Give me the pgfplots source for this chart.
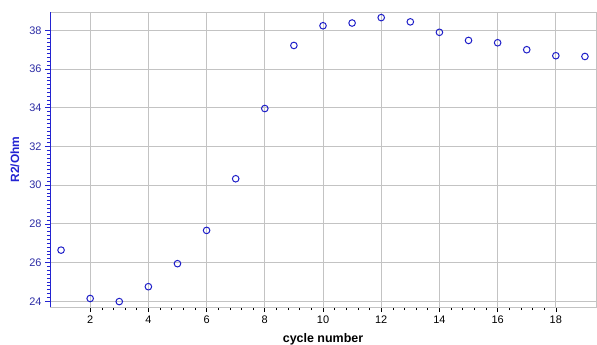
\documentclass[border=0pt]{standalone}
\usepackage{pgfplots}
\pgfplotsset{compat=1.18}
\usepackage{fontspec}
\setmainfont{Liberation Sans}
\definecolor{ablue}{RGB}{35,35,210}
\definecolor{tblue}{RGB}{45,45,165}
\definecolor{gridgray}{RGB}{195,195,195}
\definecolor{mblue}{RGB}{30,30,200}
\begin{document}
\begin{tikzpicture}
\begin{axis}[
  scale only axis, width=546bp, height=295bp,
  xmin=0.62, xmax=19.38, ymin=23.7, ymax=38.95,
  xtick={2,4,...,18}, ytick={24,26,...,38},
  minor x tick num=4, minor y tick num=9,
  grid=major, major grid style={gridgray, line width=0.8pt},
  axis line style={gridgray, line width=0.8pt},
  xtick pos=bottom, ytick pos=left, tick align=outside,
  major tick length=5bp, minor tick length=3bp,
  x tick style={black, line width=0.6pt},
  y tick style={ablue, line width=0.6pt},
  /pgf/number format/assume math mode=true,
  ticklabel style={font=\fontsize{11}{13}\selectfont},
  yticklabel style={text=tblue},
  xlabel={\textbf{cycle number}},
  ylabel={\textbf{R2/Ohm}},
  xlabel style={at={(axis description cs:0.5,0)}, anchor=center, yshift=-32bp, font=\fontsize{12.5}{14}\selectfont},
  ylabel style={at={(axis description cs:0,0.5)}, anchor=center, yshift=35bp, text=ablue, font=\fontsize{12}{14}\selectfont},
]
\addplot[only marks, mark=o, mark size=3.3bp, mark options={mblue, line width=1pt}] coordinates {
(1,26.64) (2,24.14) (3,23.98) (4,24.75) (5,25.94) (6,27.66) (7,30.33) (8,33.96)
(9,37.22) (10,38.24) (11,38.38) (12,38.66) (13,38.44) (14,37.90) (15,37.48)
(16,37.36) (17,37.00) (18,36.69) (19,36.65)};
\draw[ablue, line width=1pt] (rel axis cs:0,0) -- (rel axis cs:0,1);
\draw[black, line width=1pt] (rel axis cs:0,0) -- (rel axis cs:1,0);
\end{axis}
\pgfresetboundingbox
\path[use as bounding box] (-50bp,-38bp) rectangle (547bp,307bp);
\end{tikzpicture}
\end{document}
